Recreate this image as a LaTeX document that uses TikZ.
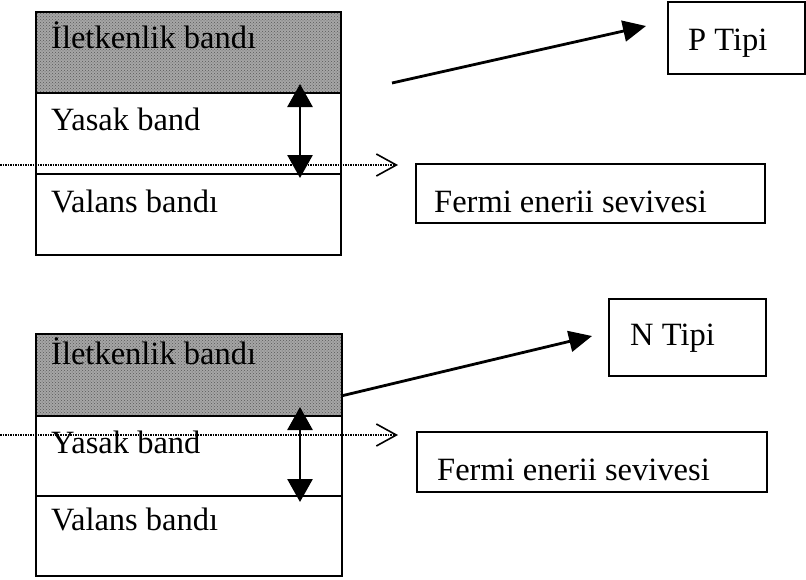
\documentclass[tikz,border=0pt]{standalone}
\usepackage{fontspec}
\setmainfont{Liberation Serif}
\usetikzlibrary{arrows.meta,patterns}
\tikzset{
  box/.style={draw=black,line width=1.5pt},
  shaded/.style={fill=black!35},
  dots/.style={pattern=crosshatch dots,pattern color=black!65},
  lbl/.style={anchor=base west,inner sep=0pt,font=\fontsize{32.5}{38}\selectfont},
  bigarrow/.style={line width=2.8pt,-{Triangle[length=23pt,width=21pt]}},
  dblarrow/.style={line width=2.8pt,{Triangle[length=23pt,width=25pt]}-{Triangle[length=23pt,width=25pt]}},
  fermiline/.style={line width=1.6pt,dash pattern=on 1.5pt off 1pt,-{Straight Barb[length=20pt,width=22pt,line width=1.6pt]}}
}
\begin{document}
\begin{tikzpicture}[x=1pt,y=-1pt]
\useasboundingbox (0,0) rectangle (806,579);
\fill[white] (0,0) rectangle (806,579);
% ---------- top block ----------
\path[shaded] (36,12) rectangle (341,93);
\path[dots] (36,12) rectangle (341,93);
\draw[box] (36,12) rectangle (341,93);
\draw[box] (36,93) rectangle (341,174);
\draw[box] (36,174) rectangle (341,255);
\node[lbl] (il1) at (51,48) {İletkenlik bandı};
\node[lbl] (ya1) at (51,130) {Yasak band};
\node[lbl] (va1) at (51,212) {Valans bandı};
\coordinate (g1t) at (300,84);
\coordinate (g1b) at (300,178);
\draw[dblarrow] (g1t) -- (g1b);
\coordinate (f1s) at (0,165);
\coordinate (f1e) at (398,165);
\draw[fermiline] (f1s) -- (f1e);
\node[box,minimum width=137pt,minimum height=72pt,inner sep=0pt] (p) at (736.5,38) {};
\node[lbl] (pt) at (688,50) {P Tipi};
\node[box,minimum width=349pt,minimum height=59pt,inner sep=0pt] (fb1) at (590.5,193.5) {};
\node[lbl] (ft1) at (434,212) {Fermi enerii sevivesi};
\coordinate (a1s) at (392,83);
\coordinate (a1e) at (646,26);
\draw[bigarrow] (a1s) -- (a1e);
% ---------- bottom block ----------
\path[shaded] (36,334) rectangle (342,416);
\path[dots] (36,334) rectangle (342,416);
\draw[box] (36,334) rectangle (342,416);
\draw[box] (36,416) rectangle (342,496);
\draw[box] (36,496) rectangle (342,576);
\node[lbl] (il2) at (51,364) {İletkenlik bandı};
\node[lbl] (ya2) at (51,453) {Yasak band};
\node[lbl] (va2) at (51,530) {Valans bandı};
\coordinate (g2t) at (300,407);
\coordinate (g2b) at (300,502);
\draw[dblarrow] (g2t) -- (g2b);
\coordinate (f2s) at (0,435);
\coordinate (f2e) at (398,435);
\draw[fermiline] (f2s) -- (f2e);
\node[box,minimum width=157pt,minimum height=77pt,inner sep=0pt] (n) at (687.5,337.5) {};
\node[lbl] (nt) at (630,345) {N Tipi};
\node[box,minimum width=350pt,minimum height=60pt,inner sep=0pt] (fb2) at (592,462) {};
\node[lbl] (ft2) at (437,480) {Fermi enerii sevivesi};
\coordinate (a2s) at (341,396);
\coordinate (a2e) at (592,336);
\draw[bigarrow] (a2s) -- (a2e);
\end{tikzpicture}
\end{document}
